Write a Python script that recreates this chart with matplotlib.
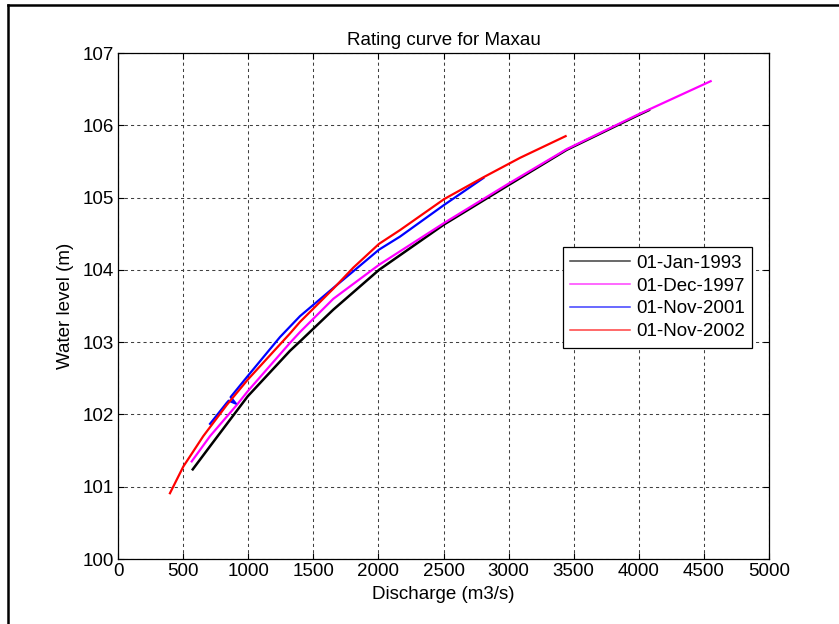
import matplotlib
matplotlib.use("Agg")
import matplotlib.pyplot as plt
from matplotlib.lines import Line2D

plt.rcParams['font.family'] = ['Liberation Sans', 'DejaVu Sans']

# discharge (m3/s) and water level (m)
q_1993 = [574, 707, 996, 1321, 1398, 1654, 2005, 2506, 3006, 3446, 3984, 4078]
h_1993 = [101.24, 101.56, 102.25, 102.88, 103.01, 103.45, 104.00, 104.63, 105.18, 105.66, 106.13, 106.21]

q_1997 = [566, 707, 912, 996, 1321, 1398, 1654, 2005, 2506, 3006, 3446, 3984, 4552]
h_1997 = [101.35, 101.70, 102.13, 102.32, 102.99, 103.14, 103.60, 104.07, 104.65, 105.20, 105.67, 106.14, 106.61]

q_2001 = [707, 835, 850, 905, 865, 996, 1244, 1398, 1654, 1807, 2005, 2166, 2506, 2806]
h_2001 = [101.87, 102.16, 102.19, 102.15, 102.24, 102.53, 103.07, 103.36, 103.75, 103.98, 104.28, 104.46, 104.90, 105.27]

q_2002 = [399, 502, 655, 835, 996, 1321, 1398, 1654, 1807, 2005, 2166, 2506, 2806, 3088, 3438]
h_2002 = [100.91, 101.28, 101.70, 102.13, 102.48, 103.12, 103.28, 103.74, 104.03, 104.36, 104.55, 104.98, 105.28, 105.55, 105.85]

labels = ['01-Jan-1993', '01-Dec-1997', '01-Nov-2001', '01-Nov-2002']
colors = ['black', '#ff00ff', '#0000ff', '#ff0000']

fig = plt.figure(figsize=(8.39, 6.24), dpi=100)
ax = fig.add_axes([118 / 839, 1 - 559 / 624, 651 / 839, 506 / 624])

ax.plot(q_1993, h_1993, color=colors[0], lw=1.8, label=labels[0])
ax.plot(q_1997, h_1997, color=colors[1], lw=1.6, label=labels[1])
ax.plot(q_2001, h_2001, color=colors[2], lw=1.6, label=labels[2])
ax.plot(q_2002, h_2002, color=colors[3], lw=1.6, label=labels[3])

fs = 13.5
ax.set_xlim(0, 5000)
ax.set_ylim(100, 107)
ax.set_xticks(range(0, 5001, 500))
ax.set_yticks(range(100, 108))
ax.tick_params(direction='in', top=True, right=True, length=4, width=0.8,
               labelsize=fs, pad=3)
for s in ax.spines.values():
    s.set_linewidth(0.9)
ax.grid(True, color='0.25', linestyle=(0, (3, 3)), linewidth=0.75)

ax.set_title('Rating curve for Maxau', fontsize=fs, pad=6)
ax.set_xlabel('Discharge (m3/s)', fontsize=fs, labelpad=4)
ax.set_ylabel('Water level (m)', fontsize=fs, labelpad=6)

handles = [Line2D([], [], color=c, lw=1.1, alpha=0.75) for c in colors]
leg = ax.legend(handles, labels, loc='upper left', bbox_to_anchor=(0.683, 0.616),
                borderaxespad=0, fontsize=fs, fancybox=False, framealpha=1,
                edgecolor='black', handlelength=3.2, handletextpad=0.3,
                labelspacing=0.3, borderpad=0.4)
leg.get_frame().set_linewidth(0.9)

# frame around the figure (left and top edges visible)
fig.add_artist(Line2D([8 / 839, 8 / 839], [0, 1 - 5 / 624], color='black', lw=1.8,
                      transform=fig.transFigure))
fig.add_artist(Line2D([8 / 839, 1], [1 - 5 / 624, 1 - 5 / 624], color='black', lw=1.8,
                      transform=fig.transFigure))

fig.savefig('out.png', dpi=100)
